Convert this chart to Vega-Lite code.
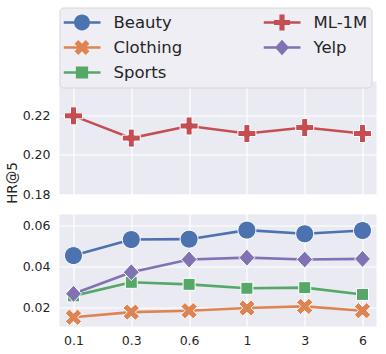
{
  "$schema": "https://vega.github.io/schema/vega-lite/v6.json",
  "padding": {"left": 5.5, "top": 6.5, "right": 0, "bottom": 0},
  "background": "white",
  "config": {
    "font": "DejaVu Sans",
    "view": {"stroke": null, "fill": "#eaeaf2"},
    "axis": {"domain": false, "ticks": false, "tickSize": 0, "gridColor": "white", "gridWidth": 1.2, "labelColor": "#262626", "labelFontSize": 12.5, "labelFont": "DejaVu Sans", "titleColor": "#262626", "titleFont": "DejaVu Sans", "titleFontWeight": "normal", "titleFontSize": 13.5},
    "legend": {"title": null, "orient": "none", "legendX": 0, "legendY": -74, "columns": 2, "direction": "vertical", "columnPadding": 81, "rowPadding": 3, "clipHeight": 22, "symbolSize": 1369, "labelFontSize": 16.5, "labelColor": "#262626", "labelFont": "DejaVu Sans", "labelOffset": 13, "padding": 4, "fillColor": "#eeeef4", "strokeColor": "#d6d6d6", "cornerRadius": 4, "gridAlign": "each", "symbolOpacity": 1, "symbolStrokeWidth": 0},
    "concat": {"spacing": 11}
  },
  "data": {"values": [
    {"Dataset": "Beauty", "x": "0.1", "HR": 0.0452},
    {"Dataset": "Beauty", "x": "0.3", "HR": 0.0530},
    {"Dataset": "Beauty", "x": "0.6", "HR": 0.0532},
    {"Dataset": "Beauty", "x": "1", "HR": 0.0576},
    {"Dataset": "Beauty", "x": "3", "HR": 0.0558},
    {"Dataset": "Beauty", "x": "6", "HR": 0.0574},
    {"Dataset": "Clothing", "x": "0.1", "HR": 0.0152},
    {"Dataset": "Clothing", "x": "0.3", "HR": 0.0177},
    {"Dataset": "Clothing", "x": "0.6", "HR": 0.0184},
    {"Dataset": "Clothing", "x": "1", "HR": 0.0197},
    {"Dataset": "Clothing", "x": "3", "HR": 0.0205},
    {"Dataset": "Clothing", "x": "6", "HR": 0.0184},
    {"Dataset": "Sports", "x": "0.1", "HR": 0.0256},
    {"Dataset": "Sports", "x": "0.3", "HR": 0.0322},
    {"Dataset": "Sports", "x": "0.6", "HR": 0.0312},
    {"Dataset": "Sports", "x": "1", "HR": 0.0293},
    {"Dataset": "Sports", "x": "3", "HR": 0.0296},
    {"Dataset": "Sports", "x": "6", "HR": 0.0263},
    {"Dataset": "ML-1M", "x": "0.1", "HR": 0.2196},
    {"Dataset": "ML-1M", "x": "0.3", "HR": 0.2084},
    {"Dataset": "ML-1M", "x": "0.6", "HR": 0.2145},
    {"Dataset": "ML-1M", "x": "1", "HR": 0.2107},
    {"Dataset": "ML-1M", "x": "3", "HR": 0.2137},
    {"Dataset": "ML-1M", "x": "6", "HR": 0.2107},
    {"Dataset": "Yelp", "x": "0.1", "HR": 0.0266},
    {"Dataset": "Yelp", "x": "0.3", "HR": 0.0371},
    {"Dataset": "Yelp", "x": "0.6", "HR": 0.0433},
    {"Dataset": "Yelp", "x": "1", "HR": 0.0442},
    {"Dataset": "Yelp", "x": "3", "HR": 0.0433},
    {"Dataset": "Yelp", "x": "6", "HR": 0.0436}
  ]},
  "vconcat": [
    {
      "width": 317,
      "height": 113,
      "transform": [{"filter": "datum.Dataset === 'ML-1M'"}],
      "encoding": {
        "x": {"field": "x", "type": "ordinal", "sort": ["0.1", "0.3", "0.6", "1", "3", "6"], "scale": {"type": "point", "padding": 0.242}, "axis": {"labels": false, "grid": true, "title": null}},
        "y": {"field": "HR", "type": "quantitative", "scale": {"domain": [0.18, 0.2369], "nice": false, "zero": false}, "axis": {"values": [0.18, 0.2, 0.22], "format": ".2f", "grid": true, "labelPadding": 9.5, "title": "HR@5", "titleX": -40, "titleY": 101, "titleAlign": "center", "titleBaseline": "bottom", "titleAngle": 270}}
      },
      "layer": [
        {"mark": {"type": "line", "strokeWidth": 2.6},
         "encoding": {"stroke": {"field": "Dataset", "type": "nominal", "scale": {"domain": ["Beauty", "Clothing", "Sports", "ML-1M", "Yelp"], "range": ["#4c72b0", "#dd8452", "#55a868", "#c44e52", "#8172b3"]}}}},
        {"mark": {"type": "point", "filled": true, "opacity": 0, "size": 1369},
         "encoding": {
           "color": {"field": "Dataset", "type": "nominal", "scale": {"domain": ["Beauty", "Clothing", "Sports", "ML-1M", "Yelp"], "range": ["#4c72b0", "#dd8452", "#55a868", "#c44e52", "#8172b3"]}},
           "shape": {"field": "Dataset", "type": "nominal", "scale": {"domain": ["Beauty", "Clothing", "Sports", "ML-1M", "Yelp"], "range": [
             "M-1,-0.07H1V0.07H-1Z M0.43,0A0.43,0.43 0 1,1 -0.43,0A0.43,0.43 0 1,1 0.43,0Z",
             "M-1,-0.07H1V0.07H-1Z M-0.4,-0.2L-0.2,-0.4L0,-0.2L0.2,-0.4L0.4,-0.2L0.2,0L0.4,0.2L0.2,0.4L0,0.2L-0.2,0.4L-0.4,0.2L-0.2,0Z",
             "M-1,-0.07H1V0.07H-1Z M-0.33,-0.33H0.33V0.33H-0.33Z",
             "M-1,-0.07H1V0.07H-1Z M-0.43,-0.14H-0.14V-0.43H0.14V-0.14H0.43V0.14H0.14V0.43H-0.14V0.14H-0.43Z",
             "M-1,-0.07H1V0.07H-1Z M0,-0.42L0.38,0L0,0.42L-0.38,0Z"]}}
         }},
        {"mark": {"type": "point", "shape": "M-0.9,-0.3H-0.3V-0.9H0.3V-0.3H0.9V0.3H0.3V0.9H-0.3V0.3H-0.9Z", "filled": true, "fill": "#c44e52", "opacity": 1, "size": 400, "stroke": "white", "strokeWidth": 1}}
      ]
    },
    {
      "width": 317,
      "height": 112,
      "transform": [{"filter": "datum.Dataset !== 'ML-1M'"}],
      "encoding": {
        "x": {"field": "x", "type": "ordinal", "sort": ["0.1", "0.3", "0.6", "1", "3", "6"], "scale": {"type": "point", "padding": 0.242}, "axis": {"labelAngle": 0, "grid": true, "title": null, "labelPadding": 8}},
        "y": {"field": "HR", "type": "quantitative", "scale": {"domain": [0.0107, 0.0652], "nice": false, "zero": false}, "axis": {"values": [0.02, 0.04, 0.06], "format": ".2f", "grid": true, "labelPadding": 9.5, "title": null}}
      },
      "layer": [
        {"mark": {"type": "line", "strokeWidth": 2.6},
         "encoding": {"stroke": {"field": "Dataset", "type": "nominal"}}},
        {"mark": {"type": "point", "filled": true, "opacity": 0, "size": 1369},
         "encoding": {
           "color": {"field": "Dataset", "type": "nominal"},
           "shape": {"field": "Dataset", "type": "nominal"}
         }},
        {"transform": [{"filter": "datum.Dataset === 'Beauty'"}],
         "mark": {"type": "point", "shape": "M0.9,0A0.9,0.9 0 1,1 -0.9,0A0.9,0.9 0 1,1 0.9,0Z", "filled": true, "fill": "#4c72b0", "opacity": 1, "size": 400, "stroke": "white", "strokeWidth": 1}},
        {"transform": [{"filter": "datum.Dataset === 'Clothing'"}],
         "mark": {"type": "point", "shape": "M-0.82,-0.41L-0.41,-0.82L0,-0.41L0.41,-0.82L0.82,-0.41L0.41,0L0.82,0.41L0.41,0.82L0,0.41L-0.41,0.82L-0.82,0.41L-0.41,0Z", "filled": true, "fill": "#dd8452", "opacity": 1, "size": 400, "stroke": "white", "strokeWidth": 1}},
        {"transform": [{"filter": "datum.Dataset === 'Sports'"}],
         "mark": {"type": "point", "shape": "M-0.6,-0.6H0.6V0.6H-0.6Z", "filled": true, "fill": "#55a868", "opacity": 1, "size": 400, "stroke": "white", "strokeWidth": 1}},
        {"transform": [{"filter": "datum.Dataset === 'Yelp'"}],
         "mark": {"type": "point", "shape": "M0,-0.85L0.8,0L0,0.85L-0.8,0Z", "filled": true, "fill": "#8172b3", "opacity": 1, "size": 400, "stroke": "white", "strokeWidth": 1}}
      ]
    }
  ]
}
